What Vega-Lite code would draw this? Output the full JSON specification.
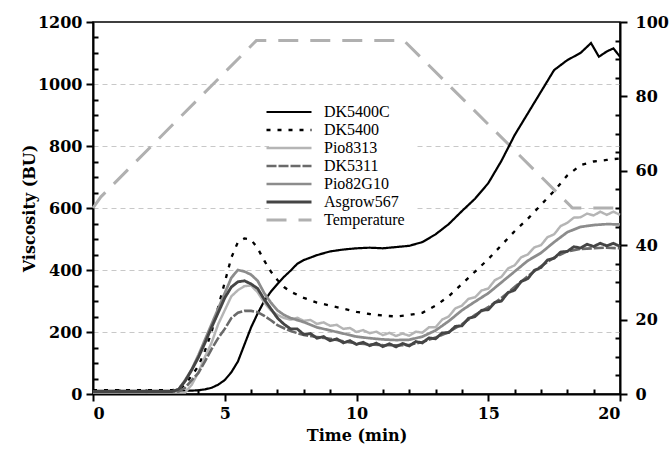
{
  "$schema": "https://vega.github.io/schema/vega-lite/v6.json",
  "width": 527,
  "height": 372,
  "autosize": "none",
  "padding": {"left": 93, "top": 22, "right": 50, "bottom": 58},
  "background": "white",
  "config": {
    "view": {"stroke": "#000", "strokeWidth": 1.5},
    "font": "Liberation Serif",
    "axis": {
      "labelColor": "#000",
      "titleColor": "#000",
      "domainColor": "#000",
      "domainWidth": 2,
      "tickColor": "#000",
      "tickWidth": 2
    }
  },
  "datasets": {
    "visc": [
      {"t": 0, "v": 10, "s": "DK5400C"}, {"t": 1, "v": 10, "s": "DK5400C"}, {"t": 2, "v": 10, "s": "DK5400C"}, {"t": 3, "v": 10, "s": "DK5400C"}, {"t": 3.5, "v": 10, "s": "DK5400C"}, {"t": 4, "v": 12, "s": "DK5400C"}, {"t": 4.25, "v": 15, "s": "DK5400C"}, {"t": 4.5, "v": 20, "s": "DK5400C"}, {"t": 4.75, "v": 30, "s": "DK5400C"}, {"t": 5, "v": 45, "s": "DK5400C"}, {"t": 5.25, "v": 70, "s": "DK5400C"}, {"t": 5.5, "v": 105, "s": "DK5400C"}, {"t": 5.75, "v": 160, "s": "DK5400C"}, {"t": 6, "v": 215, "s": "DK5400C"}, {"t": 6.25, "v": 260, "s": "DK5400C"}, {"t": 6.5, "v": 300, "s": "DK5400C"}, {"t": 6.75, "v": 330, "s": "DK5400C"}, {"t": 7, "v": 355, "s": "DK5400C"}, {"t": 7.25, "v": 378, "s": "DK5400C"}, {"t": 7.5, "v": 398, "s": "DK5400C"}, {"t": 7.75, "v": 420, "s": "DK5400C"}, {"t": 8, "v": 432, "s": "DK5400C"}, {"t": 8.5, "v": 448, "s": "DK5400C"}, {"t": 9, "v": 460, "s": "DK5400C"}, {"t": 9.5, "v": 466, "s": "DK5400C"}, {"t": 10, "v": 470, "s": "DK5400C"}, {"t": 10.5, "v": 472, "s": "DK5400C"}, {"t": 11, "v": 470, "s": "DK5400C"}, {"t": 11.5, "v": 474, "s": "DK5400C"}, {"t": 12, "v": 478, "s": "DK5400C"}, {"t": 12.5, "v": 490, "s": "DK5400C"}, {"t": 13, "v": 515, "s": "DK5400C"}, {"t": 13.5, "v": 548, "s": "DK5400C"}, {"t": 14, "v": 590, "s": "DK5400C"}, {"t": 14.5, "v": 630, "s": "DK5400C"}, {"t": 15, "v": 680, "s": "DK5400C"}, {"t": 15.5, "v": 752, "s": "DK5400C"}, {"t": 16, "v": 835, "s": "DK5400C"}, {"t": 16.5, "v": 905, "s": "DK5400C"}, {"t": 17, "v": 975, "s": "DK5400C"}, {"t": 17.5, "v": 1045, "s": "DK5400C"}, {"t": 18, "v": 1077, "s": "DK5400C"}, {"t": 18.5, "v": 1100, "s": "DK5400C"}, {"t": 18.9, "v": 1132, "s": "DK5400C"}, {"t": 19.2, "v": 1088, "s": "DK5400C"}, {"t": 19.5, "v": 1105, "s": "DK5400C"}, {"t": 19.75, "v": 1115, "s": "DK5400C"}, {"t": 20, "v": 1088, "s": "DK5400C"},

      {"t": 0, "v": 12, "s": "DK5400"}, {"t": 1, "v": 12, "s": "DK5400"}, {"t": 2, "v": 12, "s": "DK5400"}, {"t": 3, "v": 12, "s": "DK5400"}, {"t": 3.25, "v": 15, "s": "DK5400"}, {"t": 3.5, "v": 30, "s": "DK5400"}, {"t": 3.75, "v": 60, "s": "DK5400"}, {"t": 4, "v": 90, "s": "DK5400"}, {"t": 4.25, "v": 140, "s": "DK5400"}, {"t": 4.5, "v": 200, "s": "DK5400"}, {"t": 4.75, "v": 280, "s": "DK5400"}, {"t": 5, "v": 360, "s": "DK5400"}, {"t": 5.25, "v": 440, "s": "DK5400"}, {"t": 5.5, "v": 490, "s": "DK5400"}, {"t": 5.75, "v": 502, "s": "DK5400"}, {"t": 6, "v": 498, "s": "DK5400"}, {"t": 6.25, "v": 470, "s": "DK5400"}, {"t": 6.5, "v": 430, "s": "DK5400"}, {"t": 6.75, "v": 395, "s": "DK5400"}, {"t": 7, "v": 368, "s": "DK5400"}, {"t": 7.25, "v": 345, "s": "DK5400"}, {"t": 7.5, "v": 330, "s": "DK5400"}, {"t": 8, "v": 310, "s": "DK5400"}, {"t": 8.5, "v": 295, "s": "DK5400"}, {"t": 9, "v": 285, "s": "DK5400"}, {"t": 9.5, "v": 275, "s": "DK5400"}, {"t": 10, "v": 265, "s": "DK5400"}, {"t": 10.5, "v": 258, "s": "DK5400"}, {"t": 11, "v": 253, "s": "DK5400"}, {"t": 11.5, "v": 250, "s": "DK5400"}, {"t": 12, "v": 255, "s": "DK5400"}, {"t": 12.5, "v": 262, "s": "DK5400"}, {"t": 13, "v": 285, "s": "DK5400"}, {"t": 13.5, "v": 315, "s": "DK5400"}, {"t": 14, "v": 355, "s": "DK5400"}, {"t": 14.5, "v": 395, "s": "DK5400"}, {"t": 15, "v": 435, "s": "DK5400"}, {"t": 15.5, "v": 480, "s": "DK5400"}, {"t": 16, "v": 525, "s": "DK5400"}, {"t": 16.5, "v": 565, "s": "DK5400"}, {"t": 17, "v": 610, "s": "DK5400"}, {"t": 17.5, "v": 655, "s": "DK5400"}, {"t": 18, "v": 705, "s": "DK5400"}, {"t": 18.5, "v": 738, "s": "DK5400"}, {"t": 19, "v": 750, "s": "DK5400"}, {"t": 19.5, "v": 755, "s": "DK5400"}, {"t": 20, "v": 760, "s": "DK5400"},

      {"t": 0, "v": 5, "s": "Pio8313"}, {"t": 1, "v": 5, "s": "Pio8313"}, {"t": 2, "v": 5, "s": "Pio8313"}, {"t": 3, "v": 5, "s": "Pio8313"}, {"t": 3.5, "v": 5, "s": "Pio8313"}, {"t": 3.75, "v": 30, "s": "Pio8313"}, {"t": 4, "v": 70, "s": "Pio8313"}, {"t": 4.25, "v": 120, "s": "Pio8313"}, {"t": 4.5, "v": 165, "s": "Pio8313"}, {"t": 4.75, "v": 225, "s": "Pio8313"}, {"t": 5, "v": 270, "s": "Pio8313"}, {"t": 5.25, "v": 315, "s": "Pio8313"}, {"t": 5.5, "v": 335, "s": "Pio8313"}, {"t": 5.75, "v": 348, "s": "Pio8313"}, {"t": 6, "v": 350, "s": "Pio8313"}, {"t": 6.25, "v": 328, "s": "Pio8313"}, {"t": 6.5, "v": 295, "s": "Pio8313"}, {"t": 6.75, "v": 270, "s": "Pio8313"}, {"t": 7, "v": 255, "s": "Pio8313"}, {"t": 7.25, "v": 245, "s": "Pio8313"}, {"t": 7.5, "v": 240, "s": "Pio8313"}, {"t": 7.75, "v": 246, "s": "Pio8313"}, {"t": 8, "v": 236, "s": "Pio8313"}, {"t": 8.25, "v": 239, "s": "Pio8313"}, {"t": 8.5, "v": 226, "s": "Pio8313"}, {"t": 8.75, "v": 231, "s": "Pio8313"}, {"t": 9, "v": 220, "s": "Pio8313"}, {"t": 9.25, "v": 223, "s": "Pio8313"}, {"t": 9.5, "v": 210, "s": "Pio8313"}, {"t": 9.75, "v": 213, "s": "Pio8313"}, {"t": 10, "v": 200, "s": "Pio8313"}, {"t": 10.25, "v": 206, "s": "Pio8313"}, {"t": 10.5, "v": 196, "s": "Pio8313"}, {"t": 10.75, "v": 201, "s": "Pio8313"}, {"t": 11, "v": 190, "s": "Pio8313"}, {"t": 11.25, "v": 197, "s": "Pio8313"}, {"t": 11.5, "v": 187, "s": "Pio8313"}, {"t": 11.75, "v": 195, "s": "Pio8313"}, {"t": 12, "v": 188, "s": "Pio8313"}, {"t": 12.25, "v": 201, "s": "Pio8313"}, {"t": 12.5, "v": 198, "s": "Pio8313"}, {"t": 12.75, "v": 215, "s": "Pio8313"}, {"t": 13, "v": 215, "s": "Pio8313"}, {"t": 13.25, "v": 240, "s": "Pio8313"}, {"t": 13.5, "v": 250, "s": "Pio8313"}, {"t": 13.75, "v": 276, "s": "Pio8313"}, {"t": 14, "v": 285, "s": "Pio8313"}, {"t": 14.25, "v": 307, "s": "Pio8313"}, {"t": 14.5, "v": 312, "s": "Pio8313"}, {"t": 14.75, "v": 334, "s": "Pio8313"}, {"t": 15, "v": 340, "s": "Pio8313"}, {"t": 15.25, "v": 367, "s": "Pio8313"}, {"t": 15.5, "v": 378, "s": "Pio8313"}, {"t": 15.75, "v": 405, "s": "Pio8313"}, {"t": 16, "v": 415, "s": "Pio8313"}, {"t": 16.25, "v": 441, "s": "Pio8313"}, {"t": 16.5, "v": 450, "s": "Pio8313"}, {"t": 16.75, "v": 473, "s": "Pio8313"}, {"t": 17, "v": 480, "s": "Pio8313"}, {"t": 17.25, "v": 506, "s": "Pio8313"}, {"t": 17.5, "v": 515, "s": "Pio8313"}, {"t": 17.75, "v": 542, "s": "Pio8313"}, {"t": 18, "v": 552, "s": "Pio8313"}, {"t": 18.25, "v": 569, "s": "Pio8313"}, {"t": 18.5, "v": 570, "s": "Pio8313"}, {"t": 18.75, "v": 582, "s": "Pio8313"}, {"t": 19, "v": 576, "s": "Pio8313"}, {"t": 19.25, "v": 588, "s": "Pio8313"}, {"t": 19.5, "v": 578, "s": "Pio8313"}, {"t": 19.75, "v": 588, "s": "Pio8313"}, {"t": 20, "v": 578, "s": "Pio8313"},

      {"t": 0, "v": 8, "s": "DK5311"}, {"t": 1, "v": 8, "s": "DK5311"}, {"t": 2, "v": 8, "s": "DK5311"}, {"t": 3, "v": 8, "s": "DK5311"}, {"t": 3.25, "v": 8, "s": "DK5311"}, {"t": 3.5, "v": 20, "s": "DK5311"}, {"t": 3.75, "v": 45, "s": "DK5311"}, {"t": 4, "v": 68, "s": "DK5311"}, {"t": 4.25, "v": 105, "s": "DK5311"}, {"t": 4.5, "v": 145, "s": "DK5311"}, {"t": 4.75, "v": 180, "s": "DK5311"}, {"t": 5, "v": 210, "s": "DK5311"}, {"t": 5.25, "v": 245, "s": "DK5311"}, {"t": 5.5, "v": 262, "s": "DK5311"}, {"t": 5.75, "v": 268, "s": "DK5311"}, {"t": 6, "v": 268, "s": "DK5311"}, {"t": 6.25, "v": 264, "s": "DK5311"}, {"t": 6.5, "v": 252, "s": "DK5311"}, {"t": 6.75, "v": 238, "s": "DK5311"}, {"t": 7, "v": 222, "s": "DK5311"}, {"t": 7.25, "v": 212, "s": "DK5311"}, {"t": 7.5, "v": 203, "s": "DK5311"}, {"t": 8, "v": 190, "s": "DK5311"}, {"t": 8.5, "v": 184, "s": "DK5311"}, {"t": 9, "v": 178, "s": "DK5311"}, {"t": 9.5, "v": 170, "s": "DK5311"}, {"t": 10, "v": 163, "s": "DK5311"}, {"t": 10.5, "v": 160, "s": "DK5311"}, {"t": 11, "v": 158, "s": "DK5311"}, {"t": 11.5, "v": 157, "s": "DK5311"}, {"t": 12, "v": 158, "s": "DK5311"}, {"t": 12.5, "v": 168, "s": "DK5311"}, {"t": 13, "v": 182, "s": "DK5311"}, {"t": 13.5, "v": 200, "s": "DK5311"}, {"t": 14, "v": 225, "s": "DK5311"}, {"t": 14.5, "v": 255, "s": "DK5311"}, {"t": 15, "v": 280, "s": "DK5311"}, {"t": 15.5, "v": 310, "s": "DK5311"}, {"t": 16, "v": 345, "s": "DK5311"}, {"t": 16.5, "v": 380, "s": "DK5311"}, {"t": 17, "v": 412, "s": "DK5311"}, {"t": 17.5, "v": 440, "s": "DK5311"}, {"t": 18, "v": 460, "s": "DK5311"}, {"t": 18.5, "v": 468, "s": "DK5311"}, {"t": 19, "v": 470, "s": "DK5311"}, {"t": 19.5, "v": 472, "s": "DK5311"}, {"t": 20, "v": 470, "s": "DK5311"},

      {"t": 0, "v": 8, "s": "Pio82G10"}, {"t": 1, "v": 8, "s": "Pio82G10"}, {"t": 2, "v": 8, "s": "Pio82G10"}, {"t": 3, "v": 8, "s": "Pio82G10"}, {"t": 3.25, "v": 15, "s": "Pio82G10"}, {"t": 3.5, "v": 45, "s": "Pio82G10"}, {"t": 3.75, "v": 80, "s": "Pio82G10"}, {"t": 4, "v": 125, "s": "Pio82G10"}, {"t": 4.25, "v": 175, "s": "Pio82G10"}, {"t": 4.5, "v": 225, "s": "Pio82G10"}, {"t": 4.75, "v": 275, "s": "Pio82G10"}, {"t": 5, "v": 325, "s": "Pio82G10"}, {"t": 5.25, "v": 375, "s": "Pio82G10"}, {"t": 5.5, "v": 400, "s": "Pio82G10"}, {"t": 5.75, "v": 395, "s": "Pio82G10"}, {"t": 6, "v": 385, "s": "Pio82G10"}, {"t": 6.25, "v": 365, "s": "Pio82G10"}, {"t": 6.5, "v": 325, "s": "Pio82G10"}, {"t": 6.75, "v": 295, "s": "Pio82G10"}, {"t": 7, "v": 270, "s": "Pio82G10"}, {"t": 7.25, "v": 255, "s": "Pio82G10"}, {"t": 7.5, "v": 245, "s": "Pio82G10"}, {"t": 8, "v": 232, "s": "Pio82G10"}, {"t": 8.5, "v": 215, "s": "Pio82G10"}, {"t": 9, "v": 205, "s": "Pio82G10"}, {"t": 9.5, "v": 195, "s": "Pio82G10"}, {"t": 10, "v": 185, "s": "Pio82G10"}, {"t": 10.5, "v": 180, "s": "Pio82G10"}, {"t": 11, "v": 176, "s": "Pio82G10"}, {"t": 11.5, "v": 174, "s": "Pio82G10"}, {"t": 12, "v": 175, "s": "Pio82G10"}, {"t": 12.5, "v": 185, "s": "Pio82G10"}, {"t": 13, "v": 205, "s": "Pio82G10"}, {"t": 13.5, "v": 235, "s": "Pio82G10"}, {"t": 14, "v": 270, "s": "Pio82G10"}, {"t": 14.5, "v": 298, "s": "Pio82G10"}, {"t": 15, "v": 325, "s": "Pio82G10"}, {"t": 15.5, "v": 360, "s": "Pio82G10"}, {"t": 16, "v": 395, "s": "Pio82G10"}, {"t": 16.5, "v": 430, "s": "Pio82G10"}, {"t": 17, "v": 455, "s": "Pio82G10"}, {"t": 17.5, "v": 490, "s": "Pio82G10"}, {"t": 18, "v": 522, "s": "Pio82G10"}, {"t": 18.5, "v": 539, "s": "Pio82G10"}, {"t": 19, "v": 545, "s": "Pio82G10"}, {"t": 19.5, "v": 548, "s": "Pio82G10"}, {"t": 20, "v": 547, "s": "Pio82G10"},

      {"t": 0, "v": 8, "s": "Asgrow567"}, {"t": 1, "v": 8, "s": "Asgrow567"}, {"t": 2, "v": 8, "s": "Asgrow567"}, {"t": 3, "v": 8, "s": "Asgrow567"}, {"t": 3.25, "v": 15, "s": "Asgrow567"}, {"t": 3.5, "v": 42, "s": "Asgrow567"}, {"t": 3.75, "v": 78, "s": "Asgrow567"}, {"t": 4, "v": 118, "s": "Asgrow567"}, {"t": 4.25, "v": 165, "s": "Asgrow567"}, {"t": 4.5, "v": 215, "s": "Asgrow567"}, {"t": 4.75, "v": 262, "s": "Asgrow567"}, {"t": 5, "v": 310, "s": "Asgrow567"}, {"t": 5.25, "v": 345, "s": "Asgrow567"}, {"t": 5.5, "v": 362, "s": "Asgrow567"}, {"t": 5.75, "v": 365, "s": "Asgrow567"}, {"t": 6, "v": 355, "s": "Asgrow567"}, {"t": 6.25, "v": 340, "s": "Asgrow567"}, {"t": 6.5, "v": 305, "s": "Asgrow567"}, {"t": 6.75, "v": 275, "s": "Asgrow567"}, {"t": 7, "v": 245, "s": "Asgrow567"}, {"t": 7.25, "v": 225, "s": "Asgrow567"}, {"t": 7.5, "v": 210, "s": "Asgrow567"}, {"t": 7.75, "v": 210, "s": "Asgrow567"}, {"t": 8, "v": 192, "s": "Asgrow567"}, {"t": 8.25, "v": 195, "s": "Asgrow567"}, {"t": 8.5, "v": 180, "s": "Asgrow567"}, {"t": 8.75, "v": 185, "s": "Asgrow567"}, {"t": 9, "v": 172, "s": "Asgrow567"}, {"t": 9.25, "v": 178, "s": "Asgrow567"}, {"t": 9.5, "v": 165, "s": "Asgrow567"}, {"t": 9.75, "v": 172, "s": "Asgrow567"}, {"t": 10, "v": 160, "s": "Asgrow567"}, {"t": 10.25, "v": 167, "s": "Asgrow567"}, {"t": 10.5, "v": 156, "s": "Asgrow567"}, {"t": 10.75, "v": 164, "s": "Asgrow567"}, {"t": 11, "v": 153, "s": "Asgrow567"}, {"t": 11.25, "v": 162, "s": "Asgrow567"}, {"t": 11.5, "v": 152, "s": "Asgrow567"}, {"t": 11.75, "v": 163, "s": "Asgrow567"}, {"t": 12, "v": 155, "s": "Asgrow567"}, {"t": 12.25, "v": 169, "s": "Asgrow567"}, {"t": 12.5, "v": 165, "s": "Asgrow567"}, {"t": 12.75, "v": 181, "s": "Asgrow567"}, {"t": 13, "v": 178, "s": "Asgrow567"}, {"t": 13.25, "v": 197, "s": "Asgrow567"}, {"t": 13.5, "v": 198, "s": "Asgrow567"}, {"t": 13.75, "v": 218, "s": "Asgrow567"}, {"t": 14, "v": 220, "s": "Asgrow567"}, {"t": 14.25, "v": 244, "s": "Asgrow567"}, {"t": 14.5, "v": 250, "s": "Asgrow567"}, {"t": 14.75, "v": 270, "s": "Asgrow567"}, {"t": 15, "v": 272, "s": "Asgrow567"}, {"t": 15.25, "v": 295, "s": "Asgrow567"}, {"t": 15.5, "v": 300, "s": "Asgrow567"}, {"t": 15.75, "v": 327, "s": "Asgrow567"}, {"t": 16, "v": 335, "s": "Asgrow567"}, {"t": 16.25, "v": 363, "s": "Asgrow567"}, {"t": 16.5, "v": 372, "s": "Asgrow567"}, {"t": 16.75, "v": 399, "s": "Asgrow567"}, {"t": 17, "v": 408, "s": "Asgrow567"}, {"t": 17.25, "v": 432, "s": "Asgrow567"}, {"t": 17.5, "v": 438, "s": "Asgrow567"}, {"t": 17.75, "v": 458, "s": "Asgrow567"}, {"t": 18, "v": 460, "s": "Asgrow567"}, {"t": 18.25, "v": 475, "s": "Asgrow567"}, {"t": 18.5, "v": 471, "s": "Asgrow567"}, {"t": 18.75, "v": 483, "s": "Asgrow567"}, {"t": 19, "v": 476, "s": "Asgrow567"}, {"t": 19.25, "v": 486, "s": "Asgrow567"}, {"t": 19.5, "v": 478, "s": "Asgrow567"}, {"t": 19.75, "v": 486, "s": "Asgrow567"}, {"t": 20, "v": 476, "s": "Asgrow567"}
    ],
    "temp": [
      {"t": 0, "temp": 50, "s": "Temperature"},
      {"t": 0.3, "temp": 53, "s": "Temperature"},
      {"t": 6.2, "temp": 95, "s": "Temperature"},
      {"t": 11.8, "temp": 95, "s": "Temperature"},
      {"t": 18.2, "temp": 50, "s": "Temperature"},
      {"t": 20, "temp": 50, "s": "Temperature"}
    ]
  },
  "encoding": {
    "x": {
      "field": "t",
      "type": "quantitative",
      "title": "Time (min)",
      "scale": {"domain": [0, 20], "nice": false},
      "axis": {
        "values": [0,1,2,3,4,5,6,7,8,9,10,11,12,13,14,15,16,17,18,19,20],
        "labelExpr": "datum.value % 5 === 0 ? '' + datum.value : ''",
        "tickSize": {"condition": {"test": "datum.value % 5 === 0", "value": 7}, "value": -5},
        "labelFont": "DejaVu Serif",
        "labelFontSize": 16,
        "labelFontWeight": "bold",
        "titleFont": "DejaVu Serif",
        "titleFontSize": 16,
        "titleFontWeight": "bold",
        "labelPadding": 4,
        "titlePadding": 6,
        "grid": false
      }
    },
    "color": {
      "field": "s",
      "type": "nominal",
      "scale": {
        "domain": ["DK5400C", "DK5400", "Pio8313", "DK5311", "Pio82G10", "Asgrow567", "Temperature"],
        "range": ["#000000", "#000000", "#b5b5b5", "#6a6a6a", "#8c8c8c", "#454545", "#b0b0b0"]
      },
      "legend": {
        "title": null,
        "orient": "none",
        "legendX": 176,
        "legendY": 70,
        "symbolType": "M-4.5,0L4.5,0",
        "symbolSize": 100,
        "labelFont": "Liberation Serif",
        "labelFontSize": 16,
        "labelFontWeight": "normal",
        "labelColor": "#000",
        "labelOffset": 27,
        "rowPadding": 2,
        "padding": 12,
        "fillColor": "white"
      }
    },
    "strokeDash": {
      "field": "s",
      "type": "nominal",
      "scale": {
        "domain": ["DK5400C", "DK5400", "Pio8313", "DK5311", "Pio82G10", "Asgrow567", "Temperature"],
        "range": [[1, 0], [4, 7], [1, 0], [10, 2], [1, 0], [1, 0], [20, 12]]
      }
    },
    "strokeWidth": {
      "field": "s",
      "type": "nominal",
      "scale": {
        "domain": ["DK5400C", "DK5400", "Pio8313", "DK5311", "Pio82G10", "Asgrow567", "Temperature"],
        "range": [2.2, 3, 2, 2.2, 2.5, 2.5, 2]
      }
    }
  },
  "layer": [
    {
      "data": {"name": "temp"},
      "mark": {"type": "line"},
      "encoding": {
        "y": {
          "field": "temp",
          "type": "quantitative",
          "title": null,
          "scale": {"domain": [0, 100], "nice": false},
          "axis": {
            "orient": "right",
            "values": [0,5,10,15,20,25,30,35,40,45,50,55,60,65,70,75,80,85,90,95,100],
            "labelExpr": "datum.value % 20 === 0 ? '' + datum.value : ''",
            "tickSize": {"condition": {"test": "datum.value % 20 === 0", "value": 7}, "value": -5},
            "labelFont": "DejaVu Serif",
            "labelFontSize": 16,
            "labelFontWeight": "bold",
            "labelPadding": 8,
            "grid": false
          }
        }
      }
    },
    {
      "data": {"name": "visc"},
      "mark": {"type": "line"},
      "encoding": {
        "y": {
          "field": "v",
          "type": "quantitative",
          "title": "Viscosity (BU)",
          "scale": {"domain": [0, 1200], "nice": false},
          "axis": {
            "orient": "left",
            "values": [0,50,100,150,200,250,300,350,400,450,500,550,600,650,700,750,800,850,900,950,1000,1050,1100,1150,1200],
            "labelExpr": "datum.value % 200 === 0 ? '' + datum.value : ''",
            "tickSize": {"condition": {"test": "datum.value % 200 === 0", "value": 7}, "value": -5},
            "labelFont": "DejaVu Serif",
            "labelFontSize": 16,
            "labelFontWeight": "bold",
            "titleFont": "DejaVu Serif",
            "titleFontSize": 16,
            "titleFontWeight": "bold",
            "labelPadding": 4,
            "titlePadding": 0,
            "grid": true,
            "gridColor": "#c8c8c8",
            "gridDash": [5, 4],
            "gridWidth": 1,
            "gridOpacity": {"condition": {"test": "datum.value % 200 === 0 && datum.value > 0 && datum.value < 1200", "value": 1}, "value": 0}
          }
        }
      }
    }
  ],
  "resolve": {"scale": {"y": "independent"}, "axis": {"y": "independent"}}
}
